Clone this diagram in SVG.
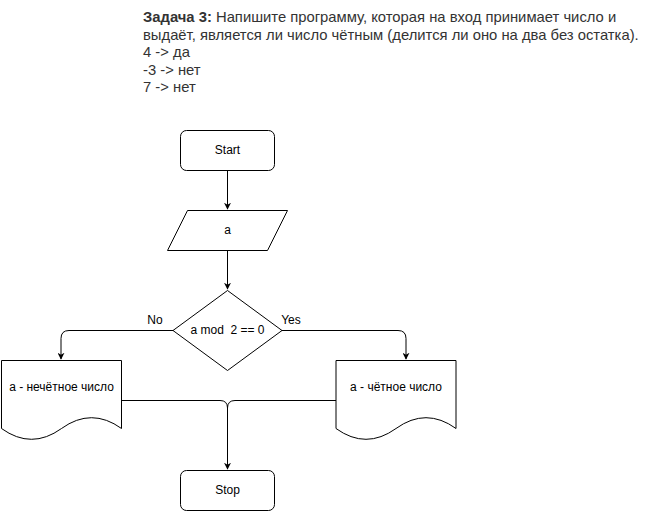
<svg xmlns="http://www.w3.org/2000/svg" width="651" height="511" viewBox="0 0 651 511">
  <defs>
    <marker id="arrow" viewBox="0 0 10 10" refX="9" refY="5" markerWidth="7" markerHeight="7" markerUnits="userSpaceOnUse" orient="auto">
      <path d="M0,0 L10,5 L0,10 L3,5 Z" fill="#000"/>
    </marker>
  </defs>
  <style>
    .shape { fill: #fff; stroke: #000; stroke-width: 1; }
    .edge { fill: none; stroke: #000; stroke-width: 1; }
    .lbl { font-family: "Liberation Sans", Arial, sans-serif; font-size: 12px; fill: #000; text-anchor: middle; white-space: pre; }
    .task { font-family: "Liberation Sans", Arial, sans-serif; font-size: 14.8px; fill: #333; }
  </style>

  <g id="task">
    <text class="task" x="143" y="22"><tspan font-weight="bold">Задача 3:</tspan> Напишите программу, которая на вход принимает число и</text>
    <text class="task" x="143" y="39.5">выдаёт, является ли число чётным (делится ли оно на два без остатка).</text>
    <text class="task" x="143" y="57">4 -&gt; да</text>
    <text class="task" x="143" y="74.5">-3 -&gt; нет</text>
    <text class="task" x="143" y="92">7 -&gt; нет</text>
  </g>

  <g id="connectors">
    <path class="edge" d="M227.5,170.5 V209" marker-end="url(#arrow)"/>
    <path class="edge" d="M227.5,250.5 V289" marker-end="url(#arrow)"/>
    <path class="edge" d="M173,330.5 H69 Q61,330.5 61,338.5 V359" marker-end="url(#arrow)"/>
    <path class="edge" d="M282,330.5 H398 Q406,330.5 406,338.5 V359" marker-end="url(#arrow)"/>
    <path class="edge" d="M121,400.5 H220 Q227.5,400.5 227.5,408 V469" marker-end="url(#arrow)"/>
    <path class="edge" d="M336,400.5 H235 Q227.5,400.5 227.5,408"/>
    <text class="lbl" x="155" y="324">No</text>
    <text class="lbl" x="291" y="324">Yes</text>
  </g>

  <g id="start">
    <rect class="shape" x="180.5" y="130.5" width="94" height="40" rx="6" ry="6"/>
    <text class="lbl" x="227.5" y="154">Start</text>
  </g>

  <g id="input">
    <path class="shape" d="M187.5,210.5 H287.5 L267.5,250.5 H167.5 Z"/>
    <text class="lbl" x="227.5" y="234">a</text>
  </g>

  <g id="decision">
    <path class="shape" d="M227.5,290.5 L282,330.5 L227.5,370.5 L173,330.5 Z"/>
    <text class="lbl" x="227.5" y="334">a mod  2 == 0</text>
  </g>

  <g id="odd">
    <path class="shape" d="M1.5,360.5 H121.5 V428.5 Q91.5,406.9 61.5,428.5 Q31.5,450.1 1.5,428.5 Z"/>
    <text class="lbl" x="61.5" y="391">а - нечётное число</text>
  </g>

  <g id="even">
    <path class="shape" d="M336,360.5 H456 V428.5 Q426,406.9 396,428.5 Q366,450.1 336,428.5 Z"/>
    <text class="lbl" x="396" y="391">а - чётное число</text>
  </g>

  <g id="stop">
    <rect class="shape" x="180.5" y="470.5" width="94" height="40" rx="6" ry="6"/>
    <text class="lbl" x="227.5" y="494">Stop</text>
  </g>
</svg>
